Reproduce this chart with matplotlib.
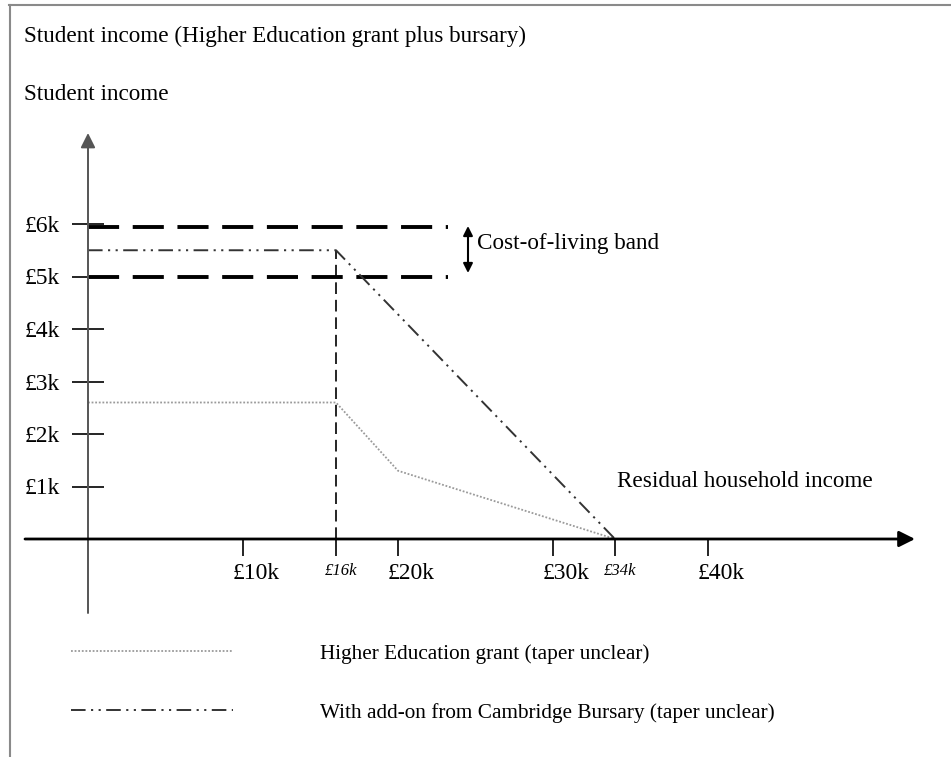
import matplotlib
matplotlib.use('Agg')
import matplotlib.pyplot as plt
import matplotlib.transforms as mtransforms
from matplotlib.lines import Line2D

# ---------------- data ----------------
y_ticks = [1, 2, 3, 4, 5, 6]
y_tick_labels = ['£1k', '£2k', '£3k', '£4k', '£5k', '£6k']
x_ticks = [10, 16, 20, 30, 34, 40]
x_tick_labels = ['£10k', '£16k', '£20k', '£30k', '£34k', '£40k']
small_labels = ['£16k', '£34k']

grant_x = [0, 16, 20, 34]
grant_y = [2.6, 2.6, 1.3, 0]
bursary_x = [0, 16, 34]
bursary_y = [5.5, 5.5, 0]
band_levels = [5.0, 5.95]
band_x = [0, 23.2]
threshold_x = 16
threshold_top = 5.5

title_text = 'Student income (Higher Education grant plus bursary)'
ylabel_text = 'Student income'
xlabel_text = 'Residual household income'
band_text = 'Cost-of-living band'
grant_label = 'Higher Education grant (taper unclear)'
bursary_label = 'With add-on from Cambridge Bursary (taper unclear)'

# ---------------- layout ----------------
plt.rcParams['font.family'] = ['Liberation Serif', 'DejaVu Serif']
W, H = 951, 757
fig = plt.figure(figsize=(W / 100, H / 100), dpi=100)
ax = fig.add_axes([0, 0, 1, 1])
X0, SX = 88, 15.5   # pixel of x=0, px per £k
Y0, SY = 539, 52.5  # pixel of y=0, px per £k
ax.set_xlim(-X0 / SX, (W - X0) / SX)
ax.set_ylim((Y0 - H) / SY, Y0 / SY)
ax.set_facecolor('white')

def fx(px):
    return px / W

def fy(py):
    return 1 - py / H

for s in ['top', 'right']:
    ax.spines[s].set_visible(False)
ax.spines['left'].set_position(('data', 0))
ax.spines['bottom'].set_position(('data', 0))
ax.spines['left'].set_visible(False)
ax.spines['bottom'].set_visible(False)

# axes arrows
ax.annotate('', xy=(0, (Y0 - 133) / SY), xytext=(0, (Y0 - 613) / SY),
            arrowprops=dict(arrowstyle='-|>', color='#555555', lw=1.4,
                            mutation_scale=22, shrinkA=0, shrinkB=0))
ax.annotate('', xy=((915 - X0) / SX, 0), xytext=((25 - X0) / SX, 0),
            arrowprops=dict(arrowstyle='-|>', color='black', lw=2.0,
                            mutation_scale=24, shrinkA=0, shrinkB=0))

# ticks
ax.set_yticks(y_ticks)
ax.set_yticklabels(y_tick_labels)
ax.set_xticks(x_ticks)
ax.set_xticklabels(x_tick_labels)
ax.tick_params(axis='y', direction='inout', length=23, width=1.2,
               color='black', labelsize=17, pad=8.5)
ax.tick_params(axis='x', direction='out', length=12, width=1.2,
               color='black', labelsize=17, pad=5)
for lbl in ax.get_xticklabels():
    if lbl.get_text() in small_labels:
        lbl.set_fontstyle('italic')
        lbl.set_fontsize(12)
        dx = 5
    else:
        dx = 13
    off = mtransforms.ScaledTranslation(dx / 100, 0, fig.dpi_scale_trans)
    lbl.set_transform(lbl.get_transform() + off)

# cost-of-living band
for lv in band_levels:
    ax.plot(band_x, [lv, lv], color='black', lw=2.8,
            linestyle=(0, (8, 3.5)), solid_capstyle='butt')

# threshold vertical
ax.plot([threshold_x, threshold_x], [0, threshold_top], color='black',
        lw=1.2, linestyle=(0, (7, 3.5)))

# series
ax.plot(grant_x, grant_y, color='#9a9a9a', lw=1.3,
        linestyle=(0, (1, 1)), label=grant_label)
ax.plot(bursary_x, bursary_y, color='#333333', lw=1.4,
        linestyle=(0, (7.5, 2.8, 1.1, 2.8, 1.1, 2.8)), label=bursary_label)

# texts
fig.text(fx(24), fy(42), title_text, ha='left', va='baseline', fontsize=16.7)
fig.text(fx(24), fy(100), ylabel_text, ha='left', va='baseline', fontsize=16.7)
fig.text(fx(617), fy(482), xlabel_text, ha='left', va='center', fontsize=16.7)
fig.text(fx(477), fy(243), band_text, ha='left', va='center', fontsize=16.7)

# band double arrow
ax.annotate('', xy=(fx(468), fy(226)), xytext=(fx(468), fy(273)),
            xycoords='figure fraction', textcoords='figure fraction',
            arrowprops=dict(arrowstyle='<|-|>', color='black', lw=1.5,
                            mutation_scale=14, shrinkA=0, shrinkB=0))

# legend
ax.legend(loc='upper left', bbox_to_anchor=(fx(71), fy(644)),
          bbox_transform=fig.transFigure, frameon=False, handlelength=7.6,
          handletextpad=4.1, labelspacing=1.83, borderpad=0, borderaxespad=0,
          fontsize=15.3)

# frame
fig.add_artist(Line2D([fx(9), 1], [fy(5), fy(5)], transform=fig.transFigure,
                      color='#8a8a8a', lw=1.5))
fig.add_artist(Line2D([fx(10), fx(10)], [fy(5), 0], transform=fig.transFigure,
                      color='#8a8a8a', lw=1.5))

fig.savefig('out.png', dpi=100)
